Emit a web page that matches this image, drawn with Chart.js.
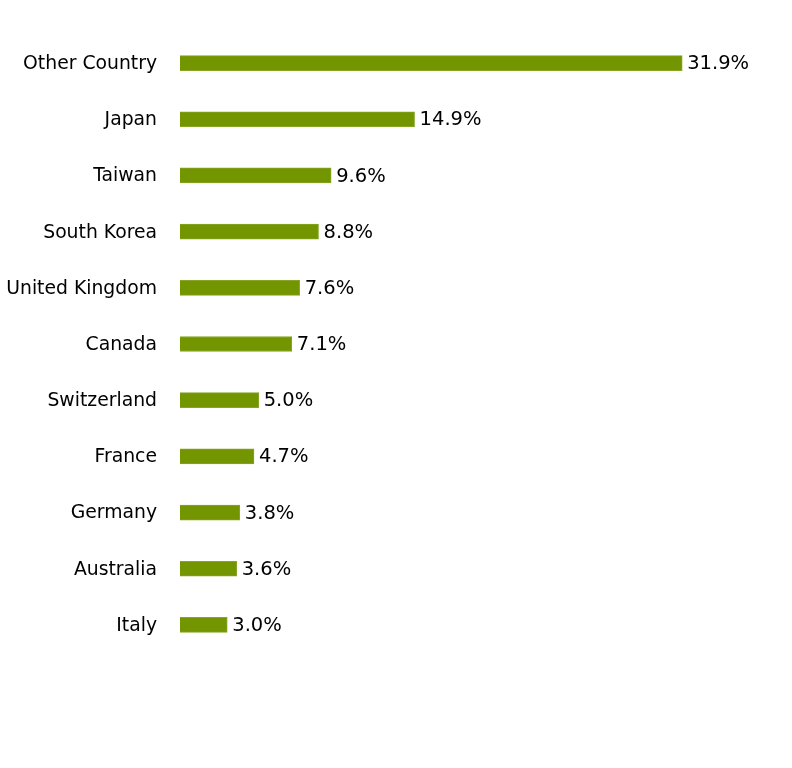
<!DOCTYPE html>
<html><head><meta charset="utf-8">
<script src="https://cdn.jsdelivr.net/npm/chart.js@4"></script>
<style>html,body{margin:0;padding:0;background:#fff}#wrap{width:792px;height:768px}</style>
</head><body><div id="wrap"><canvas id="c"></canvas></div>
<script>
const categories = ["Other Country","Japan","Taiwan","South Korea","United Kingdom","Canada","Switzerland","France","Germany","Australia","Italy"];
const shares = [31.9,14.9,9.6,8.8,7.6,7.1,5.0,4.7,3.8,3.6,3.0];
const valueLabels = ["31.9%","14.9%","9.6%","8.8%","7.6%","7.1%","5.0%","4.7%","3.8%","3.6%","3.0%"];

const FONT = "'DejaVu Sans', Verdana, sans-serif";
const labelPlugin = {
  id: 'vlabels',
  afterDatasetsDraw(chart) {
    const ctx = chart.ctx;
    const meta = chart.getDatasetMeta(0);
    ctx.save();
    ctx.font = "19.5px " + FONT;
    ctx.fillStyle = "#000";
    ctx.textAlign = "left";
    ctx.textBaseline = "middle";
    meta.data.forEach((bar, i) => {
      ctx.fillText(valueLabels[i], bar.x + 5, bar.y + 1);
    });
    ctx.restore();
  }
};

new Chart(document.getElementById('c'), {
  type: 'bar',
  data: { labels: categories, datasets: [{ data: shares, backgroundColor: '#739600', borderColor: '#86a526', borderWidth: 1, barThickness: 15 }] },
  options: {
    indexAxis: 'y',
    responsive: true, maintainAspectRatio: false, animation: false,
    layout: { padding: { left: 0, right: 61, top: 35, bottom: 115 } },
    plugins: { legend: { display: false }, tooltip: { enabled: false } },
    scales: {
      x: { min: 0, max: 35, display: false, grid: { display: false } },
      y: {
        grid: { display: false, drawBorder: false }, border: { display: false },
        ticks: { color: '#000', font: { size: 18.8, family: FONT }, padding: 15, labelOffset: 1 },
        afterFit(scale) { scale.width = 180; }
      }
    }
  },
  plugins: [labelPlugin]
});
</script></body></html>
